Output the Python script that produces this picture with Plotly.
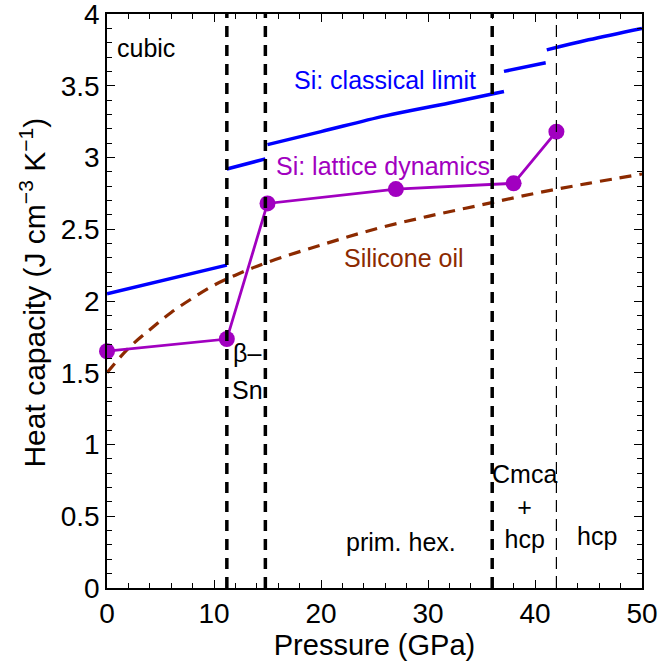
import plotly.graph_objects as go

# Lattice dynamics heat capacity (Si)
ld_p = [0, 11.2, 15, 27, 38, 42]
ld_c = [1.65, 1.735, 2.68, 2.78, 2.82, 3.18]

# Classical limit segments (Si)
cl1_p = [0, 11.2]
cl1_c = [2.05, 2.25]
cl2_p = [11.2, 14.8]
cl2_c = [2.92, 2.99]
cl3_p = [15, 20, 26, 32, 37.1]
cl3_c = [3.09, 3.18, 3.29, 3.38, 3.46]
cl4_p = [37.1, 41.0]
cl4_c = [3.60, 3.66]
cl5_p = [41.1, 45, 50]
cl5_c = [3.75, 3.82, 3.90]

# Silicone oil
oil_p = [0, 2, 4, 6, 8, 10, 12, 15, 20, 25, 30, 35, 40, 45, 50]
oil_c = [1.50, 1.67, 1.80, 1.92, 2.02, 2.11, 2.18, 2.27, 2.39, 2.50, 2.59, 2.67, 2.75, 2.82, 2.885]

# Phase boundaries
bold_bounds = [11.2, 14.8, 36.0]
thin_bounds = [42.0]

BLUE = "#0000FF"
PURP = "#A100C0"
BROWN = "#8C2A00"
FONT = "Liberation Sans, Arial, sans-serif"

fig = go.Figure()

for xb in bold_bounds:
    fig.add_shape(type="line", xref="x", yref="y", x0=xb, x1=xb, y0=0, y1=4,
                  line=dict(color="black", width=3.5, dash="11px,8px"))
for xb in thin_bounds:
    fig.add_shape(type="line", xref="x", yref="y", x0=xb, x1=xb, y0=0, y1=4,
                  line=dict(color="black", width=1.2, dash="12px,7px"))

fig.add_trace(go.Scatter(x=oil_p, y=oil_c, mode="lines", line=dict(color=BROWN, width=3.2, dash="12px,8px", shape="spline"), showlegend=False))
for px, cy in [(cl1_p, cl1_c), (cl2_p, cl2_c), (cl3_p, cl3_c), (cl4_p, cl4_c), (cl5_p, cl5_c)]:
    fig.add_trace(go.Scatter(x=px, y=cy, mode="lines", line=dict(color=BLUE, width=3.5, shape="spline"), showlegend=False))
fig.add_trace(go.Scatter(x=ld_p, y=ld_c, mode="lines+markers", line=dict(color=PURP, width=2.8),
                         marker=dict(color=PURP, size=16), showlegend=False, cliponaxis=False))

def ann(x, y, text, color="black", size=25):
    fig.add_annotation(x=x, y=y, xref="x", yref="y", text=text, showarrow=False,
                       font=dict(family=FONT, size=size, color=color))

ann(3.6, 3.76, "cubic")
ann(26.0, 3.54, "Si: classical limit", BLUE)
ann(25.8, 2.94, "Si: lattice dynamics", PURP)
ann(27.8, 2.30, "Silicone oil", BROWN)
ann(13.1, 1.64, "β–")
ann(13.1, 1.38, "Sn")
ann(27.5, 0.32, "prim. hex.")
ann(39.0, 0.565, "Cmca<br>+<br>hcp")
ann(45.8, 0.36, "hcp")

# y-axis title as a rotated annotation for precise placement
fig.add_annotation(x=-0.138, y=0.515, xref="paper", yref="paper", textangle=-90,
                   text="Heat capacity (J cm<sup>−3</sup> K<sup>−1</sup>)", showarrow=False,
                   xanchor="center", yanchor="middle",
                   font=dict(family=FONT, size=30, color="black"))

axis_common = dict(showgrid=False, zeroline=False, showline=True, linecolor="black", linewidth=1.5,
                   mirror="ticks", ticks="inside", ticklen=8, tickwidth=1.2, tickcolor="black",
                   automargin=False, ticklabeloverflow="allow",
                   tickfont=dict(family=FONT, size=28, color="black"))

fig.update_xaxes(range=[0, 50], dtick=10, tick0=0,
                 minor=dict(dtick=2, ticks="inside", ticklen=5, tickcolor="black"),
                 title=dict(text="Pressure (GPa)", font=dict(family=FONT, size=29, color="black")),
                 **axis_common)
fig.update_yaxes(range=[0, 4], dtick=0.5, tick0=0,
                 minor=dict(dtick=0.1, ticks="inside", ticklen=5, tickcolor="black"),
                 **axis_common)

fig.update_layout(width=661, height=661, margin=dict(l=107, r=19, t=14, b=73),
                  plot_bgcolor="white", paper_bgcolor="white", font=dict(family=FONT))

fig.write_html("out.html", config={"displayModeBar": False},
               post_script="document.body.style.margin='0';document.body.style.overflow='hidden';")
